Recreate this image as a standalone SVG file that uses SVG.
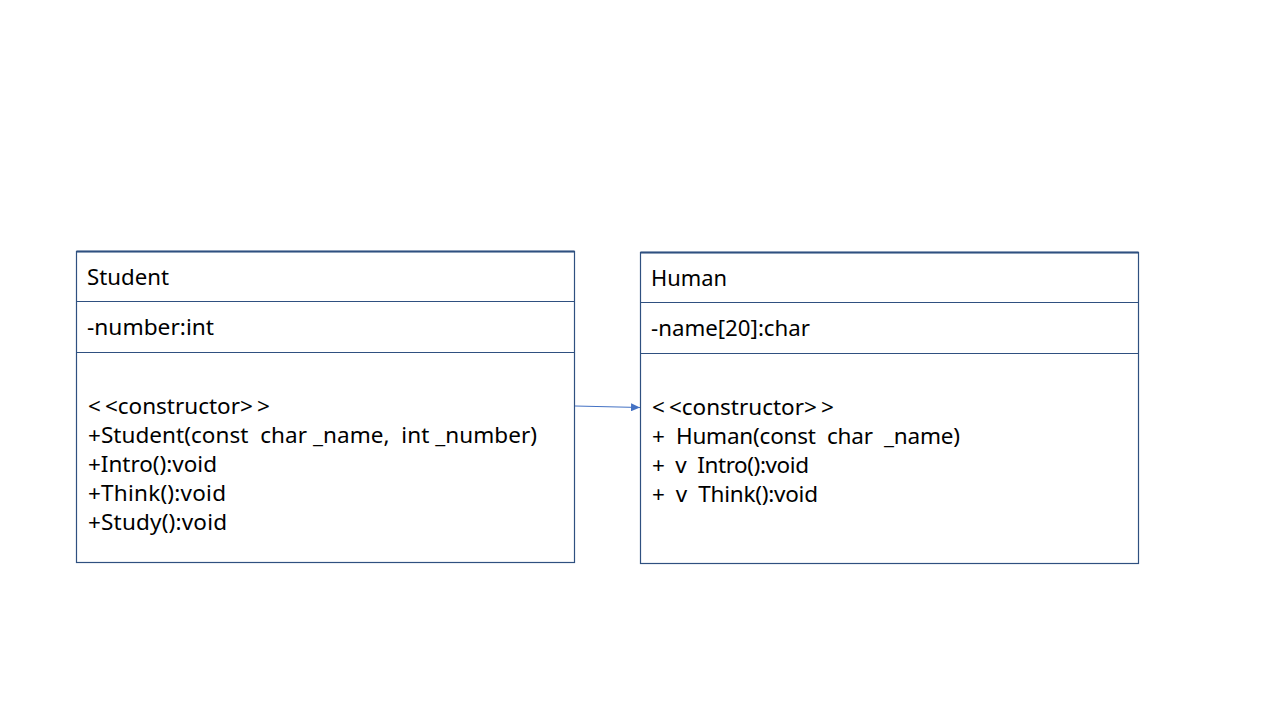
<svg xmlns="http://www.w3.org/2000/svg" width="1280" height="720" viewBox="0 0 1280 720">
<style>
.box{fill:#ffffff;stroke:#2F5080;stroke-width:1.2}
.div{stroke:#2F5080;stroke-width:1.2}
.t{font-family:"Noto Sans","Open Sans",sans-serif;font-size:22.5px;fill:#000000;white-space:pre}
.conn{stroke:#4472C4;stroke-width:1.2;fill:none}
</style>
<defs>
<marker id="arr" markerWidth="10" markerHeight="8" refX="9" refY="4" orient="auto" markerUnits="userSpaceOnUse">
<path d="M0,0 L9,4 L0,8 z" fill="#4472C4"/>
</marker>
</defs>
<rect width="1280" height="720" fill="#ffffff"/>
<g id="student">
<rect class="box" x="76.5" y="251.5" width="498" height="311"/>
<line x1="76.5" y1="251.5" x2="574.5" y2="251.5" stroke="#2F5080" stroke-width="2"/>
<line class="div" x1="76.5" y1="301.5" x2="574.5" y2="301.5"/>
<line class="div" x1="76.5" y1="352.5" x2="574.5" y2="352.5"/>
<text class="t" x="87" y="285" textLength="82" lengthAdjust="spacingAndGlyphs">Student</text>
<text class="t" x="87" y="335" textLength="127" lengthAdjust="spacingAndGlyphs">-number:int</text>
<text class="t" x="88" y="414">&lt;<tspan dx="4">&lt;</tspan>constructor&gt;<tspan dx="4">&gt;</tspan></text>
<text class="t" x="88" y="443" textLength="449" lengthAdjust="spacing">+Student(const  char _name,  int _number)</text>
<text class="t" x="88" y="472" textLength="129" lengthAdjust="spacing">+Intro():void</text>
<text class="t" x="88" y="501" textLength="138" lengthAdjust="spacing">+Think():void</text>
<text class="t" x="88" y="530" textLength="139" lengthAdjust="spacing">+Study():void</text>
</g>
<g id="human">
<rect class="box" x="640.5" y="252.5" width="498" height="311"/>
<line x1="640.5" y1="252.5" x2="1138.5" y2="252.5" stroke="#2F5080" stroke-width="2"/>
<line class="div" x1="640.5" y1="302.5" x2="1138.5" y2="302.5"/>
<line class="div" x1="640.5" y1="353.5" x2="1138.5" y2="353.5"/>
<text class="t" x="651" y="286" textLength="76" lengthAdjust="spacingAndGlyphs">Human</text>
<text class="t" x="651" y="336" textLength="159" lengthAdjust="spacingAndGlyphs">-name[20]:char</text>
<text class="t" x="652" y="415">&lt;<tspan dx="4">&lt;</tspan>constructor&gt;<tspan dx="4">&gt;</tspan></text>
<text class="t" x="652" y="444" textLength="308" lengthAdjust="spacing">+  Human(const  char  _name)</text>
<text class="t" x="652" y="473" textLength="157" lengthAdjust="spacing">+  v  Intro():void</text>
<text class="t" x="652" y="502" textLength="166" lengthAdjust="spacing">+  v  Think():void</text>
</g>
<g id="connectors">
<line class="conn" x1="575" y1="406" x2="640" y2="407.5" marker-end="url(#arr)"/>
</g>
</svg>
